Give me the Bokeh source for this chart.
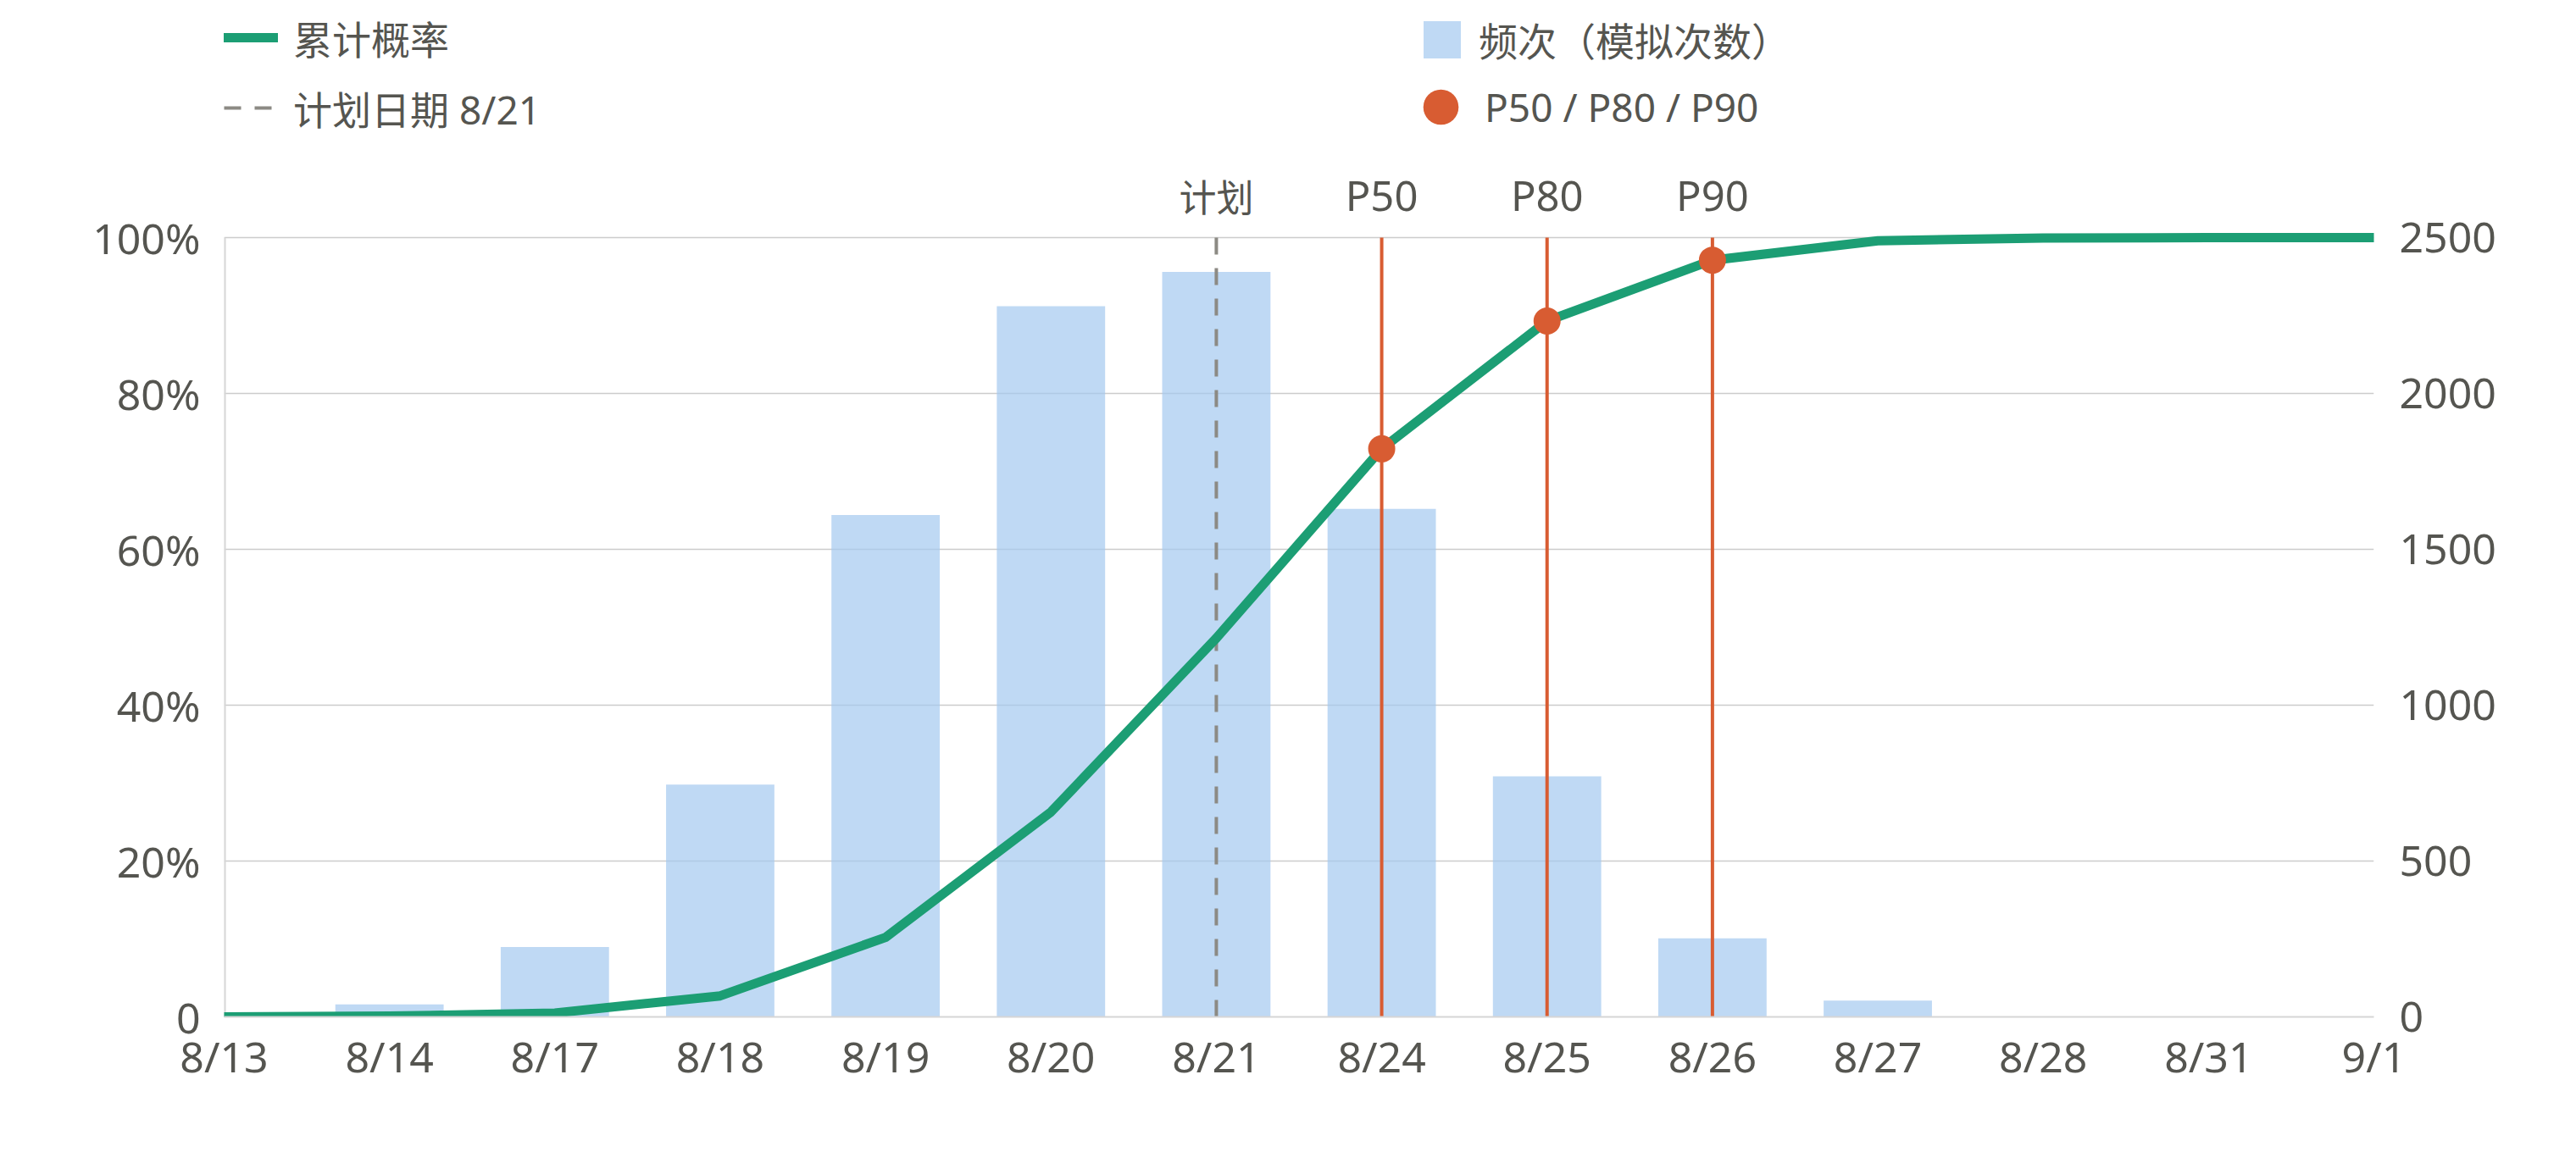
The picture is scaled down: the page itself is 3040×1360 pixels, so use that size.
from bokeh.plotting import figure
from bokeh.models import (Range1d, LinearAxis, FixedTicker, ColumnDataSource,
                          LabelSet, Legend, LegendItem)
from bokeh.core.properties import value
from bokeh.embed import file_html
from bokeh.resources import INLINE

# ---- data ----
dates = ["8/13", "8/14", "8/17", "8/18", "8/19", "8/20", "8/21",
         "8/24", "8/25", "8/26", "8/27", "8/28", "8/31", "9/1"]
freq = [8, 40, 224, 745, 1610, 2280, 2390, 1630, 772, 252, 52, 0, 0, 0]
cum_pct = [0, 0.1, 0.5, 2.7, 10.2, 26.3, 48.6, 72.9, 89.3, 97.1, 99.6, 99.95, 100, 100]
plan_date = "8/21"
plan_label = "计划"
pct_names = ["P50", "P80", "P90"]
pct_dates = ["8/24", "8/25", "8/26"]
left_ticks = [0, 20, 40, 60, 80, 100]
left_labels = ["0", "20%", "40%", "60%", "80%", "100%"]
right_ticks = [0, 500, 1000, 1500, 2000, 2500]
pct_max = 100
freq_max = 2500

FONT = "'Noto Sans', 'Noto Sans CJK SC'"
TXT = "#555550"
GREEN = "#1c9e74"
ORANGE = "#d85c32"
BLUE = "#a4c9ef"
GRAY = "#8c8a84"
AXIS = "#d6d6d6"

# layout: the frame reaches the top of the figure so that the legend and
# the top labels can live inside it; the value area occupies the lower 920px
FIG_W, FIG_H = 3030, 1350
BORDER_L, BORDER_R, BORDER_B = 264, 229, 150
FRAME_H = FIG_H - BORDER_B
PLOT_H = 920
scale = FRAME_H / PLOT_H

idx = list(range(len(dates)))
plan_i = dates.index(plan_date)
pct_i = [dates.index(d) for d in pct_dates]

p = figure(width=FIG_W, height=FIG_H, output_backend="svg", toolbar_location=None,
           x_range=Range1d(0, len(dates) - 1), y_range=Range1d(0, pct_max * scale),
           min_border_left=BORDER_L, min_border_right=BORDER_R, min_border_top=0,
           min_border_bottom=BORDER_B)
p.extra_y_ranges = {"freq": Range1d(0, freq_max * scale)}
p.outline_line_color = None
p.background_fill_color = "white"
p.border_fill_color = "white"

# axes
p.xaxis.ticker = FixedTicker(ticks=idx)
p.xaxis.major_label_overrides = {i: d for i, d in zip(idx, dates)}
p.yaxis.ticker = FixedTicker(ticks=left_ticks)
p.yaxis.major_label_overrides = {t: l for t, l in zip(left_ticks, left_labels)}
raxis = LinearAxis(y_range_name="freq", ticker=FixedTicker(ticks=right_ticks))
p.add_layout(raxis, "right")

for ax in [p.xaxis[0], p.yaxis[0], raxis]:
    ax.major_tick_line_color = None
    ax.minor_tick_line_color = None
    ax.major_label_text_font = FONT
    ax.major_label_text_font_size = "50px"
    ax.major_label_text_color = TXT
    ax.axis_line_color = None
p.xaxis.axis_line_color = AXIS
p.xaxis.axis_line_width = 2
p.xaxis.major_label_standoff = 6
p.yaxis.major_label_standoff = 22
raxis.major_label_standoff = 24

p.xgrid.grid_line_color = None
p.ygrid.ticker = FixedTicker(ticks=left_ticks)
p.ygrid.grid_line_color = "#cccccc"
p.ygrid.grid_line_width = 1.5

# left axis line (only over the value area)
p.segment(x0=[idx[0]], y0=[0], x1=[idx[0]], y1=[pct_max],
          line_color=AXIS, line_width=4)

# bars
bars = p.vbar(x=idx, top=freq, width=0.655, y_range_name="freq",
              fill_color=BLUE, fill_alpha=0.7, line_color=None)

# plan line
plan = p.segment(x0=[plan_i], y0=[pct_max], x1=[plan_i], y1=[0],
                 line_color=GRAY, line_width=4, line_dash="20 16")

# percentile lines
p.segment(x0=pct_i, y0=[pct_max] * len(pct_i), x1=pct_i, y1=[0] * len(pct_i),
          line_color=ORANGE, line_width=4)

# cumulative line
cline = p.line(idx, cum_pct, line_color=GREEN, line_width=11,
               line_cap="round", line_join="round")

# markers
marks = p.scatter(x=pct_i, y=[cum_pct[i] for i in pct_i], size=32,
                  fill_color=ORANGE, line_color=None)

# top labels
plan_src = ColumnDataSource(dict(x=[plan_i], y=[pct_max], t=[plan_label]))
p.add_layout(LabelSet(x="x", y="y", text="t", source=plan_src, y_offset=31,
                      text_align="center", text_baseline="alphabetic",
                      text_font=value(FONT), text_font_size=value("44px"),
                      text_color=TXT))
pct_src = ColumnDataSource(dict(x=pct_i, y=[pct_max] * len(pct_i), t=pct_names))
p.add_layout(LabelSet(x="x", y="y", text="t", source=pct_src, y_offset=32,
                      text_align="center", text_baseline="alphabetic",
                      text_font=value(FONT), text_font_size=value("49px"),
                      text_color=TXT))

# legends
def mk_legend(label, rend, loc, gw, gh, standoff):
    lg = Legend(items=[LegendItem(label=label, renderers=[rend])],
                location=loc, glyph_width=gw, glyph_height=gh,
                label_standoff=standoff, label_height=20,
                label_text_font=FONT, label_text_font_size="46px",
                label_text_color=TXT, label_text_baseline="middle",
                padding=0, margin=0, spacing=0,
                border_line_color=None, background_fill_alpha=0)
    p.add_layout(lg, "center")

mk_legend("累计概率", cline, (0, 1111), 64, 90, 18)
mk_legend("计划日期 8/21", plan, (0, 1028), 57, 90, 25)
mk_legend("频次（模拟次数）", bars, (1410, 1121), 55, 55, 16)
mk_legend("P50 / P80 / P90", marks, (1384, 1022), 104, 104, -7)

open("out.html", "w").write(file_html(p, INLINE))
